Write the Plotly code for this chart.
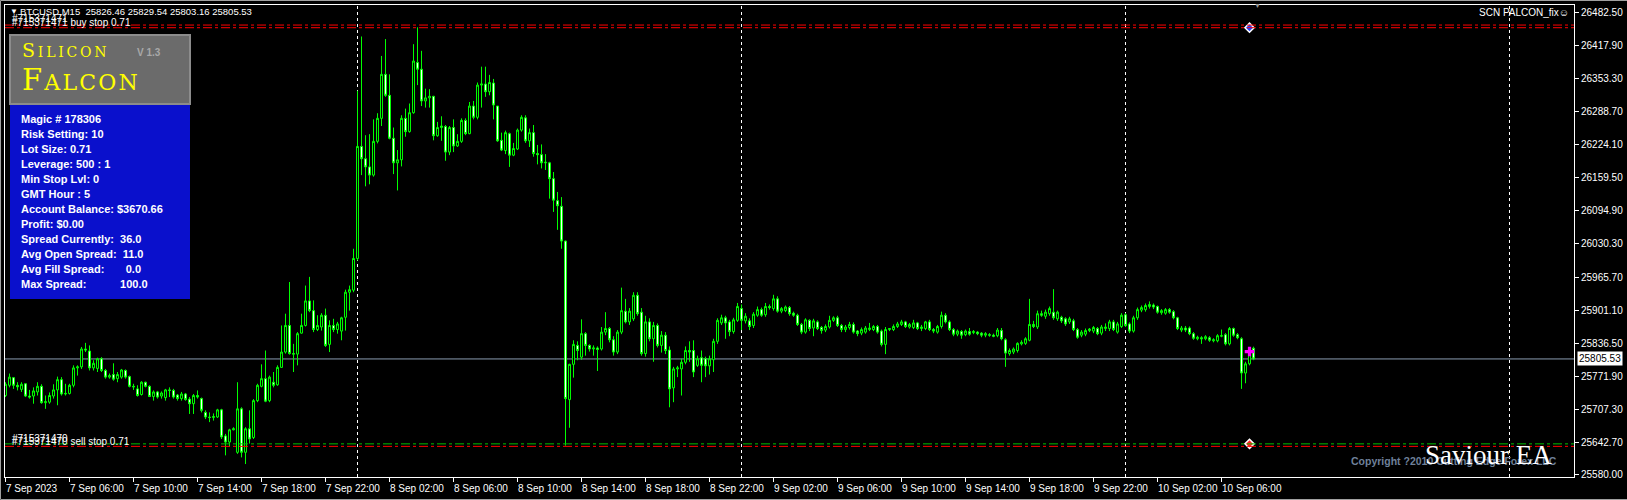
import plotly.graph_objects as go
import pandas as pd

# BTCUSD M15 bars, 7 Sep 2023 02:00 -> 10 Sep 2023 08:00
FIRST_BAR = "2023-09-07 02:00"

OPEN = [
    25734, 25754, 25769, 25754, 25746, 25757, 25733, 25733, 25741, 25752,
    25720, 25721, 25733, 25745, 25765, 25737, 25738, 25754, 25788, 25790,
    25825, 25821, 25788, 25787, 25806, 25783, 25770, 25775, 25767, 25770,
    25783, 25771, 25752, 25747, 25736, 25760, 25752, 25732, 25741, 25733,
    25730, 25745, 25744, 25735, 25728, 25737, 25727, 25718, 25734, 25728,
    25701, 25692, 25691, 25692, 25706, 25655, 25643, 25667, 25623, 25708,
    25623, 25669, 25652, 25724, 25752, 25767, 25724, 25760, 25755, 25789,
    25819, 25871, 25816, 25815, 25856, 25871, 25919, 25900, 25863, 25868,
    25891, 25834, 25871, 25863, 25860, 25887, 25936, 25940, 26002, 26221,
    26197, 26181, 26165, 26231, 26276, 26362, 26321, 26237, 26189, 26195,
    26276, 26250, 26287, 26385, 26372, 26310, 26316, 26319, 26242, 26258,
    26260, 26210, 26258, 26222, 26231, 26272, 26246, 26300, 26278, 26341,
    26343, 26328, 26345, 26300, 26233, 26213, 26246, 26204, 26216, 26253,
    26277, 26232, 26248, 26207, 26205, 26189, 26189, 26158, 26115, 26104,
    26036, 25726, 25795, 25832, 25809, 25855, 25832, 25825, 25827, 25825,
    25858, 25865, 25843, 25819, 25858, 25899, 25878, 25884, 25930, 25897,
    25816, 25878, 25845, 25871, 25832, 25852, 25823, 25749, 25786, 25786,
    25799, 25822, 25822, 25793, 25808, 25806, 25792, 25804, 25840, 25876,
    25886, 25878, 25859, 25881, 25904, 25880, 25880, 25871, 25891, 25902,
    25892, 25908, 25904, 25923, 25899, 25900, 25906, 25895, 25891, 25873,
    25858, 25881, 25866, 25878, 25867, 25862, 25868, 25881, 25886, 25871,
    25863, 25867, 25873, 25860, 25856, 25858, 25863, 25863, 25869, 25860,
    25834, 25863, 25863, 25869, 25873, 25878, 25868, 25867, 25876, 25865,
    25865, 25878, 25863, 25858, 25869, 25891, 25878, 25863, 25854, 25859,
    25853, 25859, 25857, 25858, 25856, 25852, 25853, 25852, 25851, 25861,
    25843, 25816, 25819, 25822, 25835, 25836, 25842, 25873, 25868, 25894,
    25889, 25894, 25897, 25884, 25887, 25884, 25878, 25880, 25863, 25852,
    25854, 25861, 25860, 25865, 25856, 25865, 25865, 25878, 25858, 25869,
    25892, 25874, 25860, 25886, 25901, 25902, 25908, 25911, 25908, 25896,
    25895, 25902, 25898, 25886, 25862, 25866, 25866, 25855, 25845, 25847,
    25845, 25847, 25841, 25841, 25850, 25853, 25835, 25865, 25853, 25845,
    25778, 25796, 25826.46,
]
HIGH = [
    25760, 25777, 25770, 25760, 25760, 25758, 25745, 25750, 25760, 25756,
    25734, 25740, 25756, 25771, 25770, 25757, 25757, 25793, 25793, 25829,
    25837, 25832, 25803, 25808, 25809, 25786, 25777, 25797, 25780, 25786,
    25785, 25773, 25757, 25754, 25762, 25761, 25754, 25744, 25743, 25742,
    25747, 25750, 25747, 25737, 25741, 25739, 25731, 25737, 25744, 25730,
    25705, 25701, 25699, 25708, 25708, 25659, 25669, 25672, 25760, 25711,
    25672, 25705, 25727, 25757, 25795, 25822, 25773, 25780, 25793, 25871,
    25894, 25956, 25835, 25858, 25894, 25949, 25966, 25920, 25891, 25895,
    25904, 25881, 25884, 25878, 25888, 25941, 25949, 26021, 26330, 26436,
    26243, 26245, 26274, 26286, 26398, 26431, 26362, 26258, 26214, 26282,
    26295, 26305, 26421, 26454, 26408, 26334, 26333, 26320, 26269, 26280,
    26263, 26261, 26274, 26245, 26276, 26276, 26308, 26310, 26346, 26377,
    26377, 26361, 26353, 26300, 26248, 26252, 26248, 26228, 26256, 26282,
    26282, 26256, 26263, 26224, 26225, 26206, 26191, 26171, 26132, 26122,
    26037, 25796, 25842, 25840, 25883, 25858, 25834, 25832, 25830, 25868,
    25897, 25868, 25850, 25862, 25945, 25923, 25905, 25936, 25936, 25905,
    25890, 25885, 25878, 25875, 25860, 25858, 25830, 25790, 25792, 25806,
    25830, 25840, 25842, 25812, 25822, 25810, 25812, 25845, 25885, 25892,
    25890, 25882, 25886, 25915, 25912, 25895, 25885, 25897, 25908, 25906,
    25915, 25912, 25931, 25928, 25907, 25910, 25909, 25898, 25894, 25876,
    25885, 25883, 25884, 25881, 25870, 25873, 25890, 25889, 25890, 25874,
    25872, 25878, 25877, 25862, 25867, 25870, 25876, 25872, 25872, 25863,
    25868, 25866, 25873, 25878, 25882, 25880, 25876, 25882, 25878, 25872,
    25880, 25882, 25866, 25872, 25898, 25895, 25881, 25866, 25863, 25862,
    25863, 25866, 25862, 25860, 25858, 25858, 25856, 25855, 25866, 25866,
    25846, 25826, 25828, 25838, 25842, 25848, 25923, 25880, 25900, 25900,
    25902, 25908, 25942, 25900, 25890, 25887, 25888, 25884, 25866, 25862,
    25865, 25866, 25870, 25868, 25872, 25875, 25882, 25882, 25878, 25895,
    25895, 25877, 25890, 25906, 25910, 25914, 25918, 25914, 25910, 25903,
    25905, 25905, 25901, 25888, 25870, 25870, 25869, 25858, 25851, 25850,
    25852, 25850, 25846, 25854, 25863, 25856, 25868, 25867, 25856, 25848,
    25800, 25828, 25829.54,
]
LOW = [
    25731, 25750, 25747, 25744, 25741, 25731, 25728, 25718, 25734, 25718,
    25708, 25718, 25728, 25715, 25734, 25734, 25736, 25750, 25773, 25786,
    25819, 25783, 25783, 25780, 25780, 25767, 25767, 25763, 25760, 25767,
    25767, 25750, 25745, 25732, 25734, 25750, 25731, 25724, 25728, 25728,
    25724, 25731, 25728, 25724, 25724, 25724, 25698, 25698, 25728, 25701,
    25688, 25682, 25685, 25690, 25649, 25617, 25634, 25666, 25620, 25613,
    25600, 25640, 25649, 25721, 25750, 25721, 25721, 25750, 25753, 25788,
    25816, 25814, 25780, 25793, 25855, 25869, 25897, 25858, 25860, 25861,
    25829, 25819, 25858, 25855, 25842, 25861, 25900, 25936, 25998, 26165,
    26143, 26147, 26162, 26227, 26261, 26318, 26235, 26167, 26135, 26182,
    26240, 26248, 26285, 26341, 26300, 26297, 26297, 26233, 26240, 26232,
    26193, 26204, 26210, 26220, 26228, 26243, 26245, 26274, 26274, 26297,
    26318, 26321, 26274, 26230, 26212, 26206, 26181, 26202, 26214, 26250,
    26228, 26220, 26201, 26186, 26178, 26175, 26119, 26093, 26058, 26021,
    25636, 25671, 25769, 25803, 25804, 25812, 25820, 25812, 25782, 25822,
    25852, 25838, 25812, 25815, 25854, 25875, 25872, 25880, 25890, 25812,
    25810, 25840, 25800, 25828, 25818, 25815, 25711, 25721, 25770, 25734,
    25795, 25800, 25770, 25790, 25760, 25770, 25775, 25780, 25835, 25872,
    25845, 25850, 25855, 25878, 25862, 25875, 25862, 25866, 25888, 25888,
    25888, 25902, 25900, 25896, 25895, 25897, 25890, 25888, 25870, 25854,
    25855, 25860, 25850, 25862, 25855, 25858, 25865, 25878, 25868, 25858,
    25858, 25863, 25855, 25850, 25852, 25855, 25860, 25860, 25855, 25830,
    25815, 25860, 25860, 25866, 25870, 25866, 25865, 25864, 25862, 25860,
    25862, 25860, 25856, 25855, 25865, 25875, 25860, 25850, 25850, 25845,
    25850, 25851, 25854, 25852, 25848, 25848, 25849, 25848, 25848, 25842,
    25790, 25812, 25815, 25818, 25832, 25833, 25840, 25866, 25864, 25888,
    25884, 25890, 25882, 25880, 25876, 25870, 25874, 25860, 25845, 25848,
    25850, 25858, 25856, 25852, 25852, 25860, 25860, 25860, 25855, 25866,
    25868, 25856, 25857, 25882, 25897, 25898, 25904, 25903, 25894, 25892,
    25892, 25894, 25883, 25862, 25858, 25858, 25852, 25843, 25842, 25835,
    25842, 25839, 25838, 25838, 25848, 25832, 25832, 25849, 25844, 25747,
    25758, 25793, 25803.16,
]
CLOSE = [
    25756, 25770, 25754, 25751, 25756, 25733, 25731, 25743, 25752, 25720,
    25722, 25734, 25745, 25765, 25737, 25738, 25754, 25788, 25790, 25825,
    25823, 25788, 25797, 25806, 25783, 25770, 25773, 25766, 25775, 25784,
    25770, 25752, 25751, 25734, 25760, 25752, 25732, 25741, 25731, 25739,
    25745, 25744, 25731, 25728, 25737, 25726, 25718, 25734, 25731, 25705,
    25692, 25691, 25693, 25706, 25653, 25643, 25667, 25669, 25708, 25623,
    25669, 25649, 25724, 25754, 25767, 25723, 25770, 25754, 25789, 25819,
    25871, 25816, 25815, 25855, 25871, 25919, 25900, 25863, 25871, 25891,
    25832, 25871, 25863, 25874, 25886, 25936, 25941, 26002, 26221, 26197,
    26181, 26165, 26231, 26276, 26362, 26321, 26237, 26189, 26195, 26276,
    26250, 26287, 26388, 26372, 26310, 26316, 26319, 26242, 26258, 26261,
    26210, 26258, 26222, 26231, 26272, 26246, 26300, 26278, 26341, 26343,
    26328, 26346, 26302, 26232, 26214, 26248, 26204, 26217, 26253, 26278,
    26232, 26248, 26207, 26205, 26189, 26190, 26158, 26116, 26105, 26036,
    25728, 25795, 25834, 25822, 25855, 25832, 25825, 25827, 25824, 25858,
    25865, 25843, 25819, 25858, 25900, 25878, 25899, 25930, 25894, 25816,
    25878, 25845, 25871, 25832, 25852, 25822, 25747, 25786, 25788, 25799,
    25822, 25819, 25780, 25806, 25793, 25792, 25806, 25840, 25881, 25886,
    25876, 25859, 25882, 25908, 25881, 25889, 25869, 25893, 25902, 25891,
    25908, 25906, 25923, 25899, 25904, 25907, 25894, 25891, 25873, 25858,
    25882, 25865, 25880, 25865, 25861, 25869, 25881, 25886, 25871, 25863,
    25868, 25873, 25858, 25855, 25863, 25866, 25866, 25869, 25858, 25834,
    25863, 25865, 25869, 25874, 25878, 25869, 25873, 25876, 25865, 25868,
    25878, 25863, 25860, 25869, 25891, 25878, 25863, 25854, 25860, 25852,
    25860, 25854, 25859, 25855, 25852, 25855, 25852, 25850, 25862, 25845,
    25817, 25822, 25825, 25836, 25838, 25845, 25873, 25869, 25894, 25891,
    25897, 25904, 25886, 25897, 25880, 25874, 25884, 25863, 25848, 25858,
    25861, 25864, 25867, 25855, 25868, 25868, 25878, 25863, 25874, 25891,
    25871, 25860, 25886, 25902, 25906, 25910, 25912, 25907, 25897, 25900,
    25902, 25897, 25886, 25865, 25866, 25862, 25855, 25846, 25848, 25845,
    25849, 25842, 25843, 25851, 25851, 25835, 25865, 25852, 25847, 25778,
    25796, 25822, 25805.53,
]

PRICE_TICKS = [26482.50, 26417.90, 26353.30, 26288.70, 26224.10, 26159.50,
               26094.90, 26030.30, 25965.70, 25901.10, 25836.50, 25771.90,
               25707.30, 25642.70, 25580.00]
PRICE_RANGE = [25574.7, 26497.6]

TIME_LABELS = ["7 Sep 2023", "7 Sep 06:00", "7 Sep 10:00", "7 Sep 14:00",
               "7 Sep 18:00", "7 Sep 22:00", "8 Sep 02:00", "8 Sep 06:00",
               "8 Sep 10:00", "8 Sep 14:00", "8 Sep 18:00", "8 Sep 22:00",
               "9 Sep 02:00", "9 Sep 06:00", "9 Sep 10:00", "9 Sep 14:00",
               "9 Sep 18:00", "9 Sep 22:00", "10 Sep 02:00", "10 Sep 06:00"]
TIME_LABEL_AT = pd.date_range("2023-09-07 02:00", periods=len(TIME_LABELS), freq="4h")
DAY_SEPARATORS = ["2023-09-08", "2023-09-09", "2023-09-10", "2023-09-11"]

# pending orders
BUY_LINES = [26458.4, 26453.2]
SELL_GREEN = 25639.5
SELL_RED = 25634.6
ORDER_MARK_TIME = "2023-09-10 07:45"
MAGENTA_MARK = 25820

INFO_LINES = ["Magic # 178306", "Risk Setting: 10", "Lot Size: 0.71",
              "Leverage: 500 : 1", "Min Stop Lvl: 0", "GMT Hour : 5",
              "Account Balance: $3670.66", "Profit: $0.00",
              "Spread Currently:\u00a0\u00a036.0",
              "Avg Open Spread:\u00a0\u00a011.0",
              "Avg Fill Spread:" + "\u00a0" * 7 + "0.0",
              "Max Spread:" + "\u00a0" * 11 + "100.0"]

times = pd.date_range(FIRST_BAR, periods=len(CLOSE), freq="15min")

# pixel geometry of the 1627x500 window
PL, PR, PT, PB = 5, 1574, 5, 477
bar = pd.Timedelta(minutes=15)
x_left = times[0] - bar * (0.5 / 4)
x_right = times[0] + bar * ((PR - 5.5) / 4)


def xp(px):
    return (px - PL) / (PR - PL)


def yp(py):
    return 1 - (py - PT) / (PB - PT)


FONT = "Liberation Sans"
GREEN = "#00ff00"

fig = go.Figure()
fig.add_trace(go.Candlestick(
    x=times, open=OPEN, high=HIGH, low=LOW, close=CLOSE,
    increasing=dict(line=dict(color=GREEN, width=1), fillcolor="black"),
    decreasing=dict(line=dict(color=GREEN, width=1), fillcolor="white"),
    whiskerwidth=0, hoverinfo="skip", showlegend=False,
))

fig.add_trace(go.Scatter(
    x=[ORDER_MARK_TIME], y=[BUY_LINES[1]], mode="markers",
    marker=dict(symbol="diamond", size=7, color="#2040ff", line=dict(color="white", width=1.5)),
    showlegend=False, hoverinfo="skip"))
fig.add_trace(go.Scatter(
    x=[ORDER_MARK_TIME], y=[SELL_GREEN], mode="markers",
    marker=dict(symbol="diamond", size=7, color="#ff2020", line=dict(color="white", width=1.5)),
    showlegend=False, hoverinfo="skip"))
fig.add_trace(go.Scatter(
    x=[ORDER_MARK_TIME], y=[MAGENTA_MARK], mode="markers",
    marker=dict(symbol="cross", size=8, color="#ff00ff"),
    showlegend=False, hoverinfo="skip"))

shapes = []
for d in DAY_SEPARATORS:
    shapes.append(dict(type="line", xref="x", yref="paper", x0=d, x1=d, y0=0, y1=1,
                       line=dict(color="white", width=1, dash="3px,3px"), layer="below"))
dashdot = "9px,3px,3px,3px"
for v in BUY_LINES:
    shapes.append(dict(type="line", xref="paper", yref="y", x0=0, x1=1, y0=v, y1=v,
                       line=dict(color="#ff0000", width=1, dash=dashdot)))
shapes.append(dict(type="line", xref="paper", yref="y", x0=0, x1=1, y0=SELL_GREEN, y1=SELL_GREEN,
                   line=dict(color="#00c000", width=1, dash=dashdot)))
shapes.append(dict(type="line", xref="paper", yref="y", x0=0, x1=1, y0=SELL_RED, y1=SELL_RED,
                   line=dict(color="#ff0000", width=1, dash=dashdot)))
shapes.append(dict(type="line", xref="paper", yref="y", x0=0, x1=1, y0=CLOSE[-1], y1=CLOSE[-1],
                   line=dict(color="#8a9bb0", width=1), layer="below"))
# Silicon Falcon panel
shapes.append(dict(type="rect", xref="paper", yref="paper", x0=xp(10), x1=xp(190), y0=yp(104), y1=yp(35),
                   fillcolor="#6b6b6b", line=dict(color="#8c8c8c", width=2), layer="above"))
shapes.append(dict(type="rect", xref="paper", yref="paper", x0=xp(10), x1=xp(190), y0=yp(299), y1=yp(105),
                   fillcolor="#0a10cc", line=dict(width=0), layer="above"))
# window frame
shapes.append(dict(type="rect", xref="paper", yref="paper", x0=xp(0.5), x1=xp(1640), y0=yp(499.5), y1=yp(0.5),
                   line=dict(color="#a0a0a0", width=1), fillcolor="rgba(0,0,0,0)", layer="above"))

ann = []


def text(x, y, s, size=10, color="white", anchor="left", family=FONT, **kw):
    ann.append(dict(x=xp(x), y=yp(y), xref="paper", yref="paper", text=s, showarrow=False,
                    xanchor=anchor, yanchor="middle", font=dict(family=family, size=size, color=color), **kw))


for t, lab in zip(TIME_LABEL_AT, TIME_LABELS):
    ann.append(dict(x=t, y=yp(489), xref="x", yref="paper", text=lab, showarrow=False,
                    xanchor="left", yanchor="middle", xshift=-2,
                    font=dict(family=FONT, size=10, color="white")))

header = "BTCUSD,M15\u00a0\u00a0{:.2f} {:.2f} {:.2f} {:.2f}".format(OPEN[-1], HIGH[-1], LOW[-1], CLOSE[-1])
text(8, 12, "\u25bc", size=8)
text(18, 12, header, size=9.5)
text(1571, 13, "SCN PALCON_fix\u263a", anchor="right")
text(1257, 5, "\u25bc", size=7, color="#9a9a9a", anchor="center")

text(10, 18, "#715371471", size=10)
text(10, 22, "#715371471 buy stop 0.71", size=10)
text(10, 438, "#715371470", size=10)
text(10, 441, "#715371470 sell stop 0.71", size=10)

sc = "\u2009"
text(20, 50, "S<span style='font-size:14px'>" + sc + sc.join("ILICON") + "</span>",
     size=19, color="#ffff00", family="DejaVu Serif")
text(135, 53, "<b>V 1.3</b>", size=10, color="#a8a8a8")
text(20, 80, "F<span style='font-size:22px'>" + "\u200a" + "\u200a".join("ALCON") + "</span>",
     size=29, color="#ffff00", family="DejaVu Serif")

for k, line in enumerate(INFO_LINES):
    text(19, 119 + 15 * k, "<b>" + line + "</b>", size=11)

text(1454, 461, "<b>Copyright ?2010 Cutting Edge Forex LLC</b>", size=10.5, color="#6f819a", anchor="center")
text(1488, 455, "Saviour EA", size=27, color="white", anchor="center", family="Liberation Serif")

ann.append(dict(x=1 + 3 / (PR - PL), y=CLOSE[-1], xref="paper", yref="y", text="{:.2f}".format(CLOSE[-1]),
                showarrow=False, xanchor="left", yanchor="middle", bgcolor="white", borderpad=1,
                font=dict(family=FONT, size=10, color="black")))

fig.update_layout(
    width=1627, height=500,
    margin=dict(l=PL, r=1627 - PR, t=PT, b=500 - PB),
    paper_bgcolor="black", plot_bgcolor="black",
    showlegend=False,
    xaxis=dict(type="date", range=[x_left, x_right], showgrid=False, zeroline=False,
               showline=True, mirror=True, linecolor="white", linewidth=1,
               ticks="outside", ticklen=4, tickcolor="white", tickvals=list(TIME_LABEL_AT),
               showticklabels=False, rangeslider=dict(visible=False), fixedrange=True,
               automargin=False),
    yaxis=dict(side="right", range=PRICE_RANGE, showgrid=False, zeroline=False,
               showline=True, mirror=True, linecolor="white", linewidth=1,
               ticks="outside", ticklen=4, tickcolor="white", tickvals=PRICE_TICKS,
               tickformat=".2f", tickfont=dict(family=FONT, size=10, color="white"),
               fixedrange=True, automargin=False),
    shapes=shapes,
    annotations=ann,
)

# drop the page's default body margin so the chart fills the window exactly
fig.write_html("out.html", config=dict(displayModeBar=False),
               post_script="document.body.style.margin='0';document.body.style.background='black';")
